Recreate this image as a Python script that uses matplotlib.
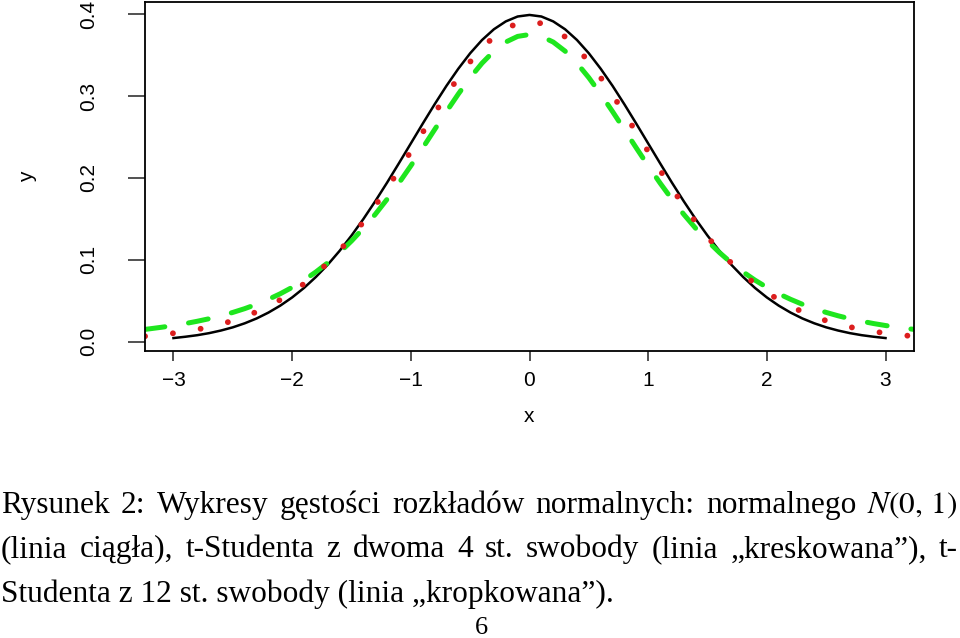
import matplotlib.pyplot as plt

# Wartości gęstości (krok 0.1)
x_norm = [-3.0, -2.9, -2.8, -2.7, -2.6, -2.5, -2.4, -2.3, -2.2, -2.1, -2.0, -1.9, -1.8, -1.7, -1.6,
          -1.5, -1.4, -1.3, -1.2, -1.1, -1.0, -0.9, -0.8, -0.7, -0.6, -0.5, -0.4, -0.3, -0.2, -0.1,
          0.0, 0.1, 0.2, 0.3, 0.4, 0.5, 0.6, 0.7, 0.8, 0.9, 1.0, 1.1, 1.2, 1.3, 1.4, 1.5, 1.6, 1.7,
          1.8, 1.9, 2.0, 2.1, 2.2, 2.3, 2.4, 2.5, 2.6, 2.7, 2.8, 2.9, 3.0]
y_norm = [0.0044, 0.0060, 0.0079, 0.0104, 0.0136, 0.0175, 0.0224, 0.0283, 0.0355, 0.0440, 0.0540,
          0.0656, 0.0790, 0.0940, 0.1109, 0.1295, 0.1497, 0.1714, 0.1942, 0.2179, 0.2420, 0.2661,
          0.2897, 0.3123, 0.3332, 0.3521, 0.3683, 0.3814, 0.3910, 0.3970, 0.3989, 0.3970, 0.3910,
          0.3814, 0.3683, 0.3521, 0.3332, 0.3123, 0.2897, 0.2661, 0.2420, 0.2179, 0.1942, 0.1714,
          0.1497, 0.1295, 0.1109, 0.0940, 0.0790, 0.0656, 0.0540, 0.0440, 0.0355, 0.0283, 0.0224,
          0.0175, 0.0136, 0.0104, 0.0079, 0.0060, 0.0044]

x_t = [-3.24, -3.2, -3.1, -3.0, -2.9, -2.8, -2.7, -2.6, -2.5, -2.4, -2.3, -2.2, -2.1, -2.0, -1.9,
       -1.8, -1.7, -1.6, -1.5, -1.4, -1.3, -1.2, -1.1, -1.0, -0.9, -0.8, -0.7, -0.6, -0.5, -0.4,
       -0.3, -0.2, -0.1, 0.0, 0.1, 0.2, 0.3, 0.4, 0.5, 0.6, 0.7, 0.8, 0.9, 1.0, 1.1, 1.2, 1.3, 1.4,
       1.5, 1.6, 1.7, 1.8, 1.9, 2.0, 2.1, 2.2, 2.3, 2.4, 2.5, 2.6, 2.7, 2.8, 2.9, 3.0, 3.1, 3.2, 3.24]
# t-Student, 4 stopnie swobody (linia kreskowana)
y_t4 = [0.0150, 0.0157, 0.0176, 0.0197, 0.0221, 0.0249, 0.0280, 0.0316, 0.0357, 0.0403, 0.0456,
        0.0517, 0.0585, 0.0663, 0.0751, 0.0851, 0.0963, 0.1089, 0.1229, 0.1384, 0.1554, 0.1739,
        0.1937, 0.2147, 0.2365, 0.2588, 0.2809, 0.3023, 0.3223, 0.3400, 0.3547, 0.3658, 0.3727,
        0.3750, 0.3727, 0.3658, 0.3547, 0.3400, 0.3223, 0.3023, 0.2809, 0.2588, 0.2365, 0.2147,
        0.1937, 0.1739, 0.1554, 0.1384, 0.1229, 0.1089, 0.0963, 0.0851, 0.0751, 0.0663, 0.0585,
        0.0517, 0.0456, 0.0403, 0.0357, 0.0316, 0.0280, 0.0249, 0.0221, 0.0197, 0.0176, 0.0157,
        0.0150]
# t-Student, 12 stopni swobody (linia kropkowana)
y_t12 = [0.0066, 0.0071, 0.0085, 0.0103, 0.0124, 0.0149, 0.0179, 0.0214, 0.0256, 0.0306, 0.0364,
         0.0432, 0.0511, 0.0602, 0.0707, 0.0826, 0.0961, 0.1112, 0.1279, 0.1462, 0.1659, 0.1871,
         0.2093, 0.2322, 0.2555, 0.2787, 0.3012, 0.3224, 0.3417, 0.3585, 0.3722, 0.3824, 0.3886,
         0.3907, 0.3886, 0.3824, 0.3722, 0.3585, 0.3417, 0.3224, 0.3012, 0.2787, 0.2555, 0.2322,
         0.2093, 0.1871, 0.1659, 0.1462, 0.1279, 0.1112, 0.0961, 0.0826, 0.0707, 0.0602, 0.0511,
         0.0432, 0.0364, 0.0306, 0.0256, 0.0214, 0.0179, 0.0149, 0.0124, 0.0103, 0.0085, 0.0071,
         0.0066]

x_ticks = [-3, -2, -1, 0, 1, 2, 3]
x_ticklabels = ['\u22123', '\u22122', '\u22121', '0', '1', '2', '3']
y_ticks = [0.0, 0.1, 0.2, 0.3, 0.4]
y_ticklabels = ['0.0', '0.1', '0.2', '0.3', '0.4']

caption = [
    "Rysunek 2: Wykresy gęstości rozkładów normalnych: normalnego $N(0,\\,1)$",
    "(linia ciągła), t-Studenta z dwoma 4 st. swobody (linia „kreskowana”), t-",
]
caption_last = "Studenta z 12 st. swobody (linia „kropkowana”)."

plt.rcParams['mathtext.fontset'] = 'stix'

W, H = 960, 638
fig = plt.figure(figsize=(W / 100, H / 100), dpi=100)
ax = fig.add_axes([145 / W, 1 - 351 / H, (914 - 145) / W, (351 - 2) / H])

ax.plot(x_norm, y_norm, color='black', lw=1.8)
ax.plot(x_t, y_t4, color='#1ee61e', lw=3.6, dash_capstyle='round', dashes=(4.0, 4.8))
ax.plot(x_t, y_t12, color='#dc1e1e', lw=4.2, dash_capstyle='round', dashes=(0.01, 4.8))

ax.set_xlim(-3.24, 3.24)
ax.set_ylim(-0.0114, 0.4147)
ax.set_xticks(x_ticks)
ax.set_xticklabels(x_ticklabels)
ax.set_yticks(y_ticks)
ax.set_yticklabels(y_ticklabels, rotation=90, va='center')

tick_font = dict(family='Liberation Sans', size=15)
for lab in ax.get_xticklabels() + ax.get_yticklabels():
    lab.set_fontfamily('Liberation Sans')
    lab.set_fontsize(15)
ax.tick_params(axis='x', length=7.5, width=1.2, pad=7, color='#333333')
ax.tick_params(axis='y', length=12, width=1.2, pad=22, color='#333333')
for s in ax.spines.values():
    s.set_linewidth(1.3)

ax.set_xlabel('x', fontdict=tick_font, labelpad=12)
ax.set_ylabel('y', fontdict=tick_font, labelpad=30)

# podpis rysunku - wyjustowany jak w LaTeX-u
cap_font = dict(family='Liberation Serif', size=22.6)
renderer = fig.canvas.get_renderer()
baselines = [513, 557]
for line, yb in zip(caption, baselines):
    words = line.split(' ')
    texts = [fig.text(0, 1 - yb / H, w, va='baseline', ha='left', **cap_font) for w in words]
    widths = [t.get_window_extent(renderer).width for t in texts]
    gap = (958 - 1 - sum(widths)) / (len(words) - 1)
    xpos = 1
    for t, w in zip(texts, widths):
        t.set_x(xpos / W)
        xpos += w + gap

fig.text(1 / W, 1 - 602 / H, caption_last, va='baseline', ha='left', **cap_font)
fig.text(481 / W, 1 - 634 / H, '6', va='baseline', ha='center', family='Liberation Serif', size=19)

fig.savefig('out.png', dpi=100)
